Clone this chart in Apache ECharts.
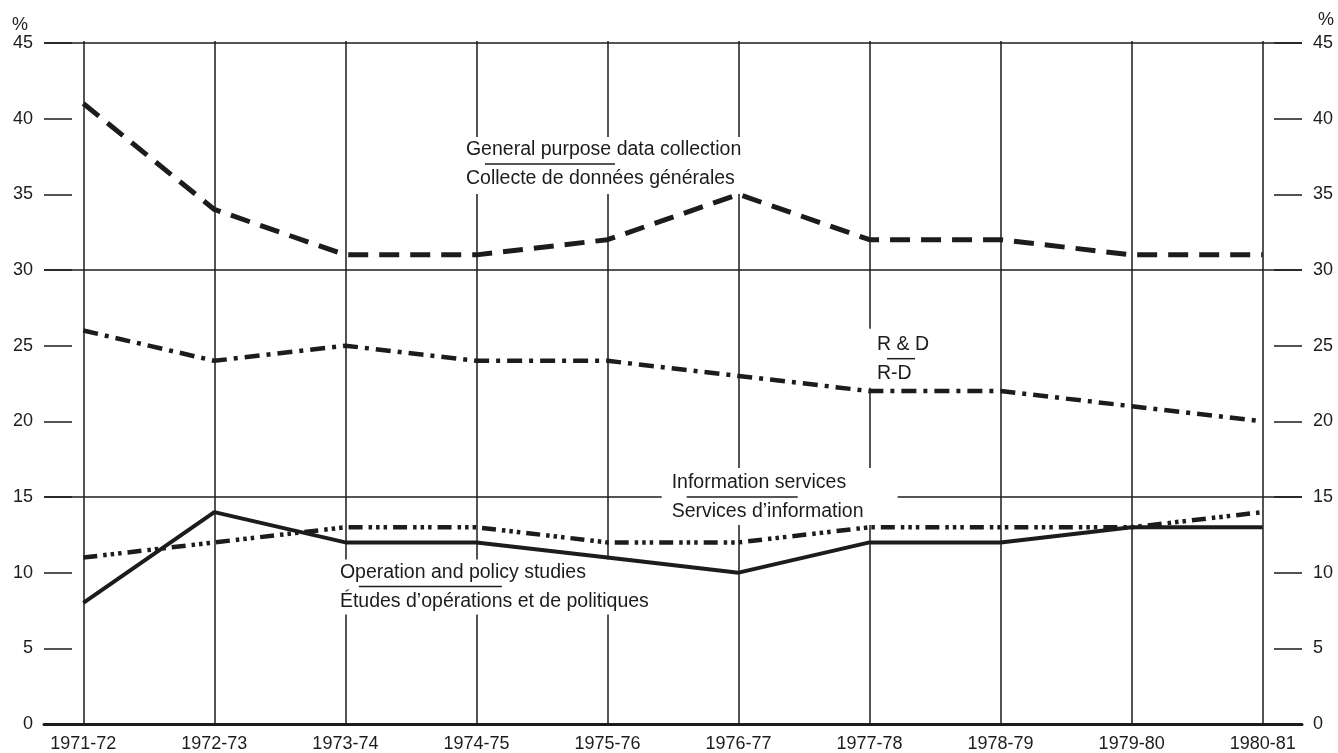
<!DOCTYPE html>
<html><head><meta charset="utf-8">
<script src="https://cdn.jsdelivr.net/npm/echarts@6/dist/echarts.min.js"></script>
<style>html,body{margin:0;padding:0;background:#fff}#c{width:1338px;height:753px}</style>
</head><body><div id="c"></div>
<script>
// ---- data ----
const categories = ['1971-72','1972-73','1973-74','1974-75','1975-76','1976-77','1977-78','1978-79','1979-80','1980-81'];
const generalPurpose = [41, 34, 31, 31, 32, 35, 32, 32, 31, 31];
const researchDev    = [26, 24, 25, 24, 24, 23, 22, 22, 21, 20];
const infoServices   = [11, 12, 13, 13, 12, 12, 13, 13, 13, 14];
const operationPolicy= [8, 14, 12, 12, 11, 10, 12, 12, 13, 13];
const yTicks = [0, 5, 10, 15, 20, 25, 30, 35, 40, 45];
const fullLines = [15, 30, 45];

// ---- annotation texts (anchored in data coordinates) ----
const annTexts = [
  {en: 'General purpose data collection', fr: 'Collecte de données générales'},
  {en: 'R & D', fr: 'R-D'},
  {en: 'Information services', fr: 'Services d\u2019information'},
  {en: 'Operation and policy studies', fr: '\u00c9tudes d\u2019op\u00e9rations et de politiques'}
];
const annLayout = [
  {at: [2.92, 37.0], ul: [19, 149], box: [-11, -27, 294, 30]},
  {at: [6.057, 24.14], ul: [10, 38], box: [-13, -30, 58, 29]},
  {at: [4.49, 15.0], ul: [15, 126], box: [-10, -29, 226, 28]},
  {at: [1.958, 9.08], ul: [19, 162], box: [-5, -27, 320, 28]}
];

const FONT = '"Liberation Sans", Arial, Helvetica, sans-serif';
const INK = '#1c1c1c';
const idx = categories.map((c, i) => i);
const toPairs = arr => arr.map((v, i) => [i, v]);

const chart = echarts.init(document.getElementById('c'), null, {renderer: 'canvas'});

const yAxisCommon = {
  type: 'value', min: 0, max: 45, interval: 5,
  name: '%',
  nameLocation: 'end',
  axisLine: {show: false, onZero: false},
  axisTick: {show: true, inside: true, length: 28, lineStyle: {color: INK, width: 1.5}},
  splitLine: {show: false},
  axisLabel: {fontSize: 18, color: INK, fontFamily: FONT, margin: 11,
              formatter: v => yTicks.indexOf(v) >= 0 ? String(v) : ''}
};

const lineBase = {type: 'line', symbol: 'none', z: 3, silent: true, animation: false, xAxisIndex: 0, yAxisIndex: 0};

chart.setOption({
  animation: false,
  backgroundColor: '#fff',
  grid: {left: 44, right: 36, top: 43, bottom: 26, containLabel: false},
  xAxis: {
    type: 'value', min: -0.3, max: 9.3,
    axisLine: {show: true, onZero: false, lineStyle: {color: INK, width: 3}},
    axisTick: {show: true, inside: true, length: 683, customValues: idx, lineStyle: {color: INK, width: 1.5}},
    axisLabel: {customValues: idx, formatter: v => categories[Math.round(v)] || '',
                fontSize: 18, color: INK, fontFamily: FONT, margin: 11},
    splitLine: {show: false}
  },
  yAxis: [
    Object.assign({}, yAxisCommon, {position: 'left', nameGap: 9,
      nameTextStyle: {fontSize: 18, color: INK, fontFamily: FONT, align: 'right', padding: [0, 16, 0, 0]}}),
    Object.assign({}, yAxisCommon, {position: 'right', nameGap: 14,
      nameTextStyle: {fontSize: 18, color: INK, fontFamily: FONT, align: 'left', padding: [0, 0, 0, 16]}})
  ],
  series: [
    {type: 'line', data: [], z: 1, silent: true, xAxisIndex: 0, yAxisIndex: 0,
     markLine: {z: 1, silent: true, symbol: ['none', 'none'], animation: false,
       label: {show: false}, lineStyle: {color: INK, width: 1.5, type: 'solid'},
       data: fullLines.map(v => ({yAxis: v}))}},
    Object.assign({}, lineBase, {name: 'General purpose', data: toPairs(generalPurpose),
      lineStyle: {color: INK, width: 5, type: [20, 11], cap: 'butt', join: 'round'}}),
    Object.assign({}, lineBase, {name: 'R & D', data: toPairs(researchDev),
      lineStyle: {color: INK, width: 4.5, type: [15, 7, 4, 7], cap: 'butt', join: 'round'}}),
    Object.assign({}, lineBase, {name: 'Information services', data: toPairs(infoServices),
      lineStyle: {color: INK, width: 4.5, type: [14, 6, 3.5, 4, 3.5, 4, 3.5, 6], cap: 'butt', join: 'round'}}),
    Object.assign({}, lineBase, {name: 'Operation and policy studies', data: toPairs(operationPolicy),
      lineStyle: {color: INK, width: 4, type: 'solid', join: 'round'}})
  ]
});

// annotation graphics positioned through the chart's own scales
const elements = [];
annTexts.forEach((t, k) => {
  const L = annLayout[k];
  const p = chart.convertToPixel({gridIndex: 0}, L.at);
  const x = p[0], y = p[1];
  elements.push({type: 'rect', z: 2, silent: true,
    shape: {x: x + L.box[0], y: y + L.box[1], width: L.box[2] - L.box[0], height: L.box[3] - L.box[1]},
    style: {fill: '#fff'}});
  elements.push({type: 'line', z: 2.5, silent: true,
    shape: {x1: x + L.ul[0], y1: y, x2: x + L.ul[1], y2: y},
    style: {stroke: INK, lineWidth: 1.5}});
  elements.push({type: 'text', z: 2.5, silent: true,
    style: {text: t.en, x: x, y: y - 14, fill: INK, fontSize: 19.5, fontFamily: FONT,
            textAlign: 'left', textVerticalAlign: 'middle', align: 'left', verticalAlign: 'middle'}});
  elements.push({type: 'text', z: 2.5, silent: true,
    style: {text: t.fr, x: x, y: y + 15, fill: INK, fontSize: 19.5, fontFamily: FONT,
            textAlign: 'left', textVerticalAlign: 'middle', align: 'left', verticalAlign: 'middle'}});
});
chart.setOption({graphic: {elements: elements}});
</script>
</body></html>
